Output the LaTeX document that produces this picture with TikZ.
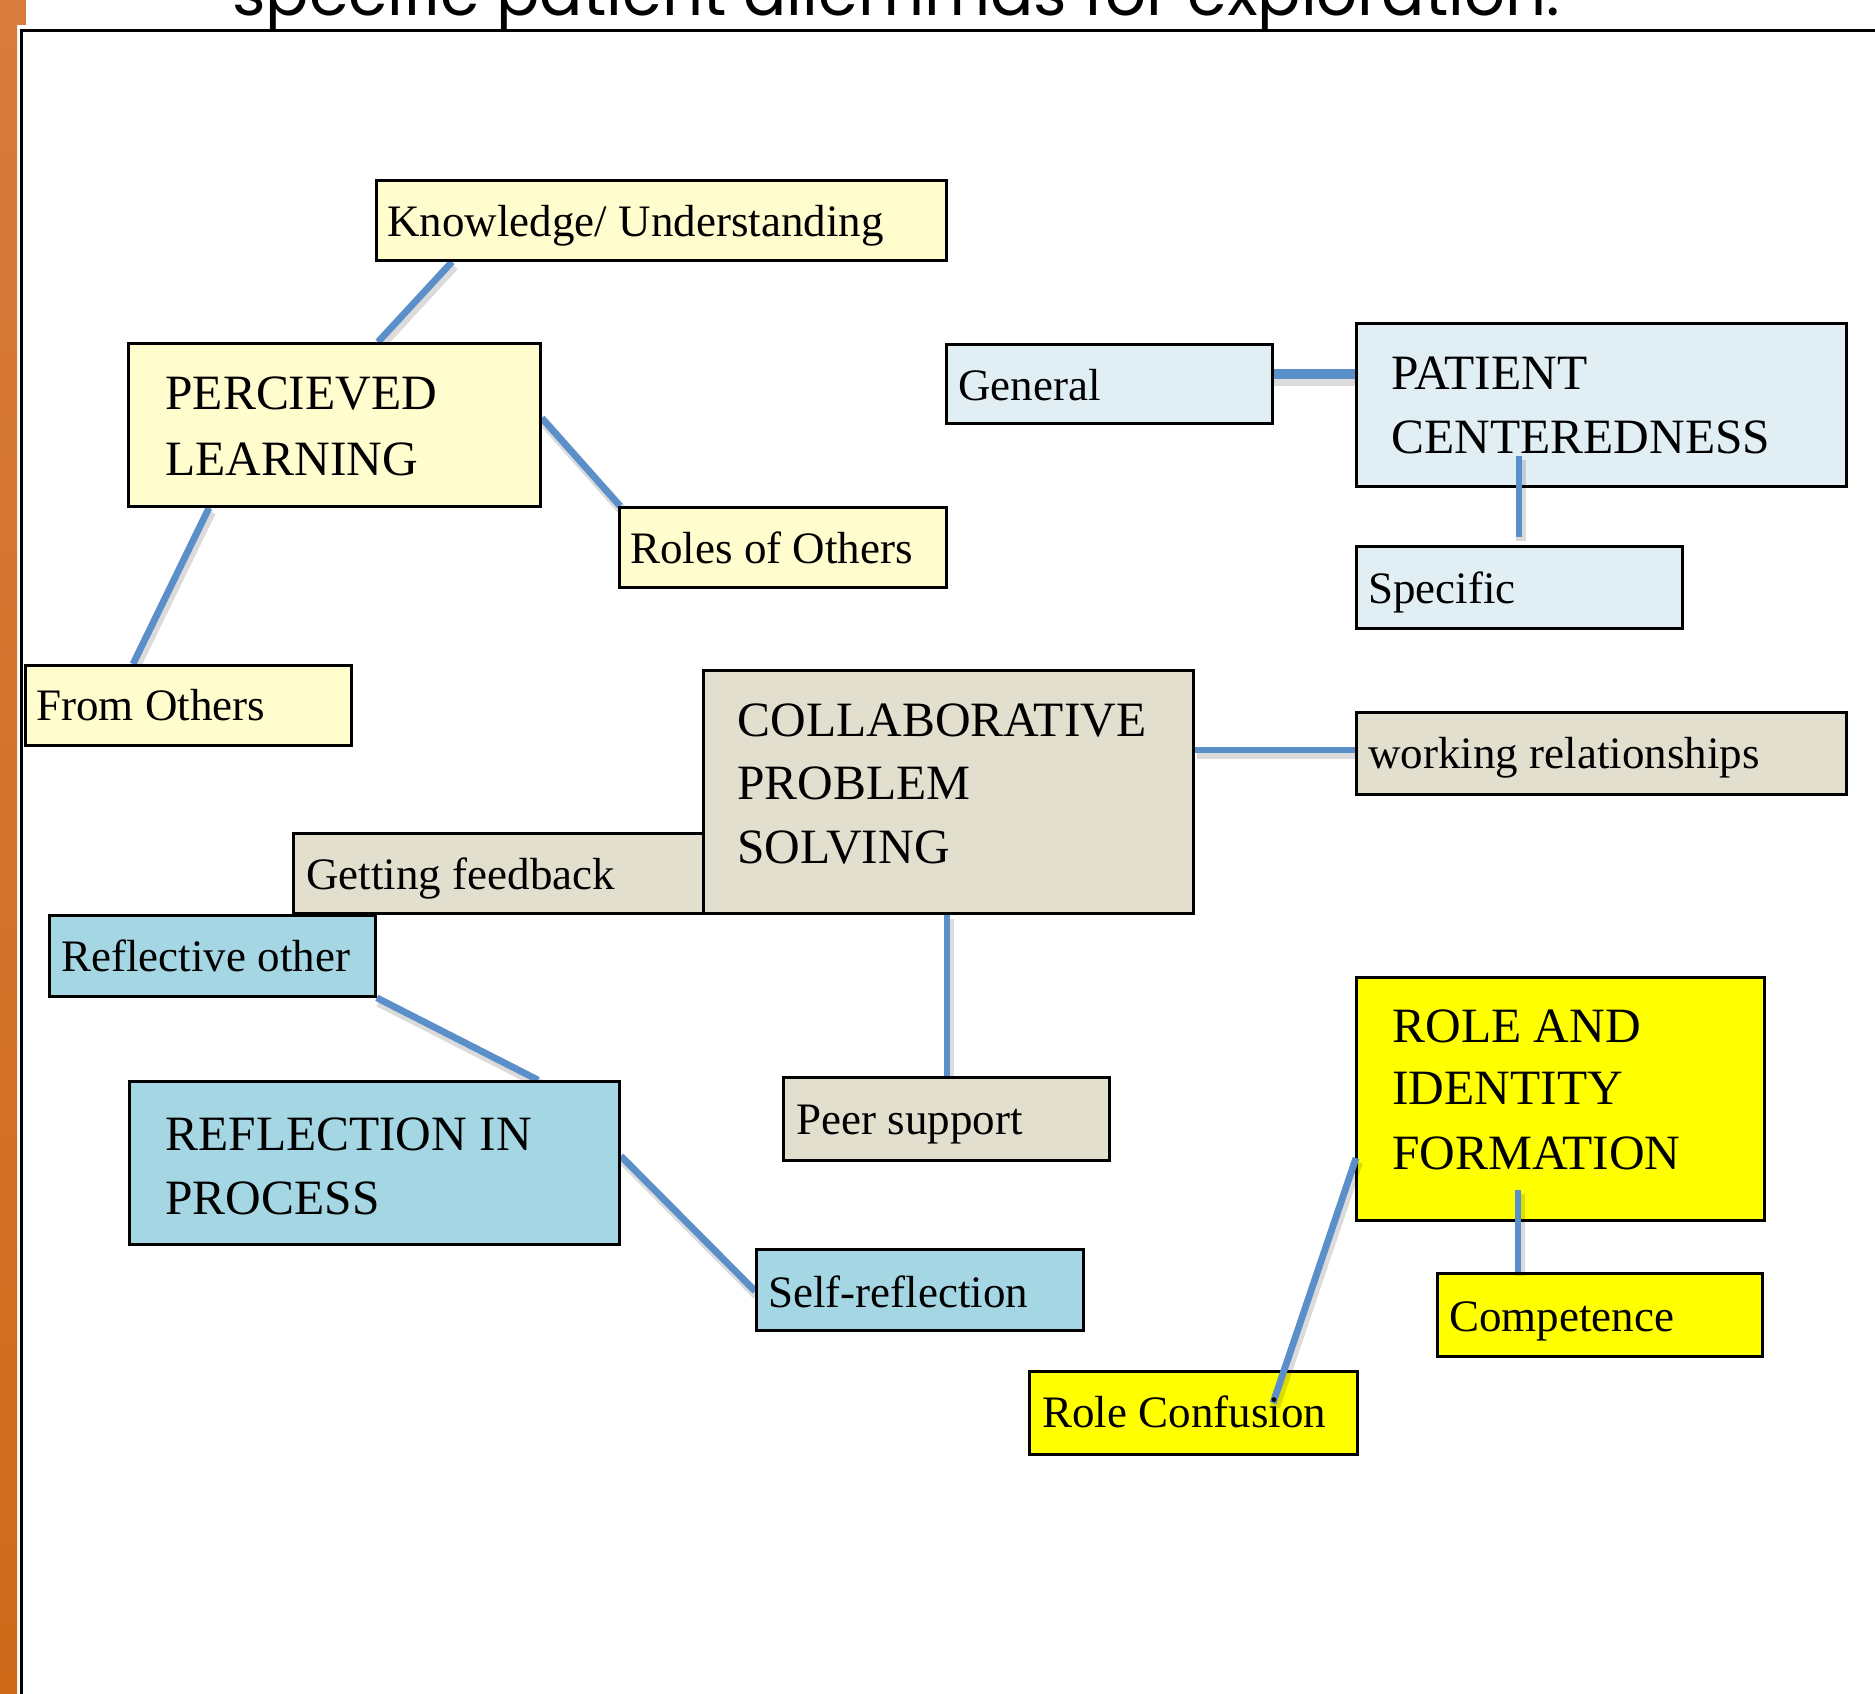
\documentclass[tikz,border=0pt]{standalone}
\usepackage{fontspec}
\setmainfont{Liberation Serif}
\newfontfamily\titlefont{Poppins}
\usetikzlibrary{calc}
\definecolor{lyel}{HTML}{FFFCCD}
\definecolor{lblu}{HTML}{E1EFF5}
\definecolor{beig}{HTML}{E2DFCE}
\definecolor{mblu}{HTML}{A5D6E3}
\definecolor{yel}{HTML}{FFFF00}
\definecolor{cblu}{HTML}{5B8FC9}
\definecolor{orA}{HTML}{D87B3D}
\definecolor{orB}{HTML}{CE6A1A}
\pgfdeclarelayer{background}
\pgfsetlayers{background,main}
\tikzset{
  box/.style={draw=black, line width=1.4pt, rectangle, inner sep=0pt, anchor=north west},
  sm/.style={anchor=base west, inner sep=0pt, font=\fontsize{22.5pt}{27pt}\selectfont},
  bg/.style={anchor=base west, inner sep=0pt, font=\fontsize{24.7pt}{30pt}\selectfont},
  conn/.style={draw=cblu, line width=3.4pt},
  shd/.style={draw=black, opacity=0.14, line width=5pt},
}
\newcommand\lnk[2]{\draw[shd] ([shift={(2,4)}]#1) -- ([shift={(2,4)}]#2); \draw[conn] (#1) -- (#2);}
\begin{document}
\begin{tikzpicture}[x=0.5pt,y=-0.5pt]
\useasboundingbox (0,0) rectangle (1875,1693);
% side bar and frame
\shade[top color=orA, bottom color=orB] (0,0) rectangle (17,1693);
\fill[orA] (0,0) rectangle (26,25);
\draw[line width=1.6pt] (21.5,1700) -- (21.5,30.5) -- (1880,30.5);
% title (cut off)
\node[anchor=base west, inner sep=0pt] (title) at (232,15) {\titlefont\resizebox{663.5pt}{!}{specific patient dilemmas for exploration.}};

% boxes
\node[box, fill=lyel, minimum width=285pt, minimum height=40pt] (kn) at (375,179) {};
\node[box, fill=lyel, minimum width=206pt, minimum height=81.5pt] (pl) at (127,342) {};
\node[box, fill=lyel, minimum width=163.5pt, minimum height=40pt] (ro) at (618,506) {};
\node[box, fill=lyel, minimum width=163pt, minimum height=40pt] (fo) at (24,664) {};
\node[box, fill=lblu, minimum width=163pt, minimum height=39.5pt] (ge) at (945,343) {};
\node[box, fill=lblu, minimum width=245pt, minimum height=81.5pt] (pc) at (1355,322) {};
\node[box, fill=lblu, minimum width=163pt, minimum height=41pt] (sp) at (1355,545) {};
\node[box, fill=beig, minimum width=205pt, minimum height=40pt] (gf) at (292,832) {};
\node[box, fill=beig, minimum width=245pt, minimum height=121.5pt] (cps) at (702,669) {};
\node[box, fill=beig, minimum width=245pt, minimum height=41pt] (wr) at (1355,711) {};
\node[box, fill=mblu, minimum width=163pt, minimum height=40.5pt] (rfo) at (48,914) {};
\node[box, fill=mblu, minimum width=245pt, minimum height=81.5pt] (rip) at (128,1080) {};
\node[box, fill=beig, minimum width=163pt, minimum height=41.5pt] (ps) at (782,1076) {};
\node[box, fill=mblu, minimum width=163.5pt, minimum height=40.5pt] (sr) at (755,1248) {};
\node[box, fill=yel, minimum width=204pt, minimum height=121.5pt] (rif) at (1355,976) {};
\node[box, fill=yel, minimum width=162.5pt, minimum height=41.5pt] (co) at (1436,1272) {};
\node[box, fill=yel, minimum width=164pt, minimum height=41.5pt] (rc) at (1028,1370) {};

% connector end points
\coordinate (k1) at ($(kn.south west)+(77,0)$);
\coordinate (k2) at ($(pl.north west)+(251,0)$);
\coordinate (p1) at ($(pl.north east)+(0,76)$);
\coordinate (r1) at ($(ro.north west)+(2,0)$);
\coordinate (p2) at ($(pl.south west)+(82,0)$);
\coordinate (f1) at ($(fo.north west)+(109,0)$);
\coordinate (g1) at ($(ge.north east)+(0,31)$);
\coordinate (c1) at ($(pc.north west)+(0,52)$);
\coordinate (c2) at ($(pc.north west)+(164,134)$);
\coordinate (s1) at ($(sp.north west)+(164,-8)$);
\coordinate (q1) at ($(cps.north east)+(0,81)$);
\coordinate (w1) at ($(wr.north west)+(0,39)$);
\coordinate (q2) at ($(cps.south west)+(245,0)$);
\coordinate (ps1) at ($(ps.north west)+(165,0)$);
\coordinate (f2) at (rfo.south east);
\coordinate (ri1) at ($(rip.north west)+(410,0)$);
\coordinate (ri2) at ($(rip.north east)+(0,76)$);
\coordinate (sr1) at ($(sr.north west)+(0,43)$);
\coordinate (o2) at ($(rif.north west)+(163,214)$);
\coordinate (co1) at ($(co.north west)+(82,0)$);
\coordinate (o3) at ($(rif.north west)+(1,182)$);
\coordinate (rc1) at ($(rc.north west)+(245,33)$);

\begin{pgfonlayer}{background}
\fill[white] (0,0) rectangle (1875,1693);
\lnk{k1}{k2}
\lnk{p1}{r1}
\lnk{p2}{f1}
\draw[shd, line width=6.5pt] ([shift={(0,5)}]g1) -- ([shift={(0,5)}]c1);
\draw[draw=cblu, line width=5pt] (g1) -- (c1);
\lnk{q1}{w1}
\lnk{q2}{ps1}
\lnk{f2}{ri1}
\lnk{ri2}{sr1}
\end{pgfonlayer}
% connectors lying over boxes
\lnk{c2}{s1}
\lnk{o2}{co1}
\lnk{o3}{rc1}

% texts
\node[sm] (knt) at (387,236) {Knowledge/ Understanding};
\node[bg] (plt1) at (165,409) {PERCIEVED};
\node[bg] (plt2) at (165,475) {LEARNING};
\node[sm] (rot) at (630,563) {Roles of Others};
\node[sm] (fot) at (36,720) {From Others};
\node[sm] (get) at (958,400) {General};
\node[bg] (pct1) at (1391,389) {PATIENT};
\node[bg] (pct2) at (1391,453) {CENTEREDNESS};
\node[sm] (spt) at (1368,603) {Specific};
\node[bg] (cpst1) at (737,736) {COLLABORATIVE};
\node[bg] (cpst2) at (737,799) {PROBLEM};
\node[bg] (cpst3) at (737,863) {SOLVING};
\node[sm] (wrt) at (1368,768) {working relationships};
\node[sm] (gft) at (306,889) {Getting feedback};
\node[sm] (rfot) at (61,971) {Reflective other};
\node[bg] (ript1) at (165,1150) {REFLECTION IN};
\node[bg] (ript2) at (165,1214) {PROCESS};
\node[sm] (pst) at (796,1134) {Peer support};
\node[sm] (srt) at (768,1307) {Self-reflection};
\node[bg] (rift1) at (1392,1042) {ROLE AND};
\node[bg] (rift2) at (1392,1104) {IDENTITY};
\node[bg] (rift3) at (1392,1169) {FORMATION};
\node[sm] (cot) at (1449,1331) {Competence};
\node[sm] (rct) at (1042,1427) {Role Confusion};
\end{tikzpicture}
\end{document}
